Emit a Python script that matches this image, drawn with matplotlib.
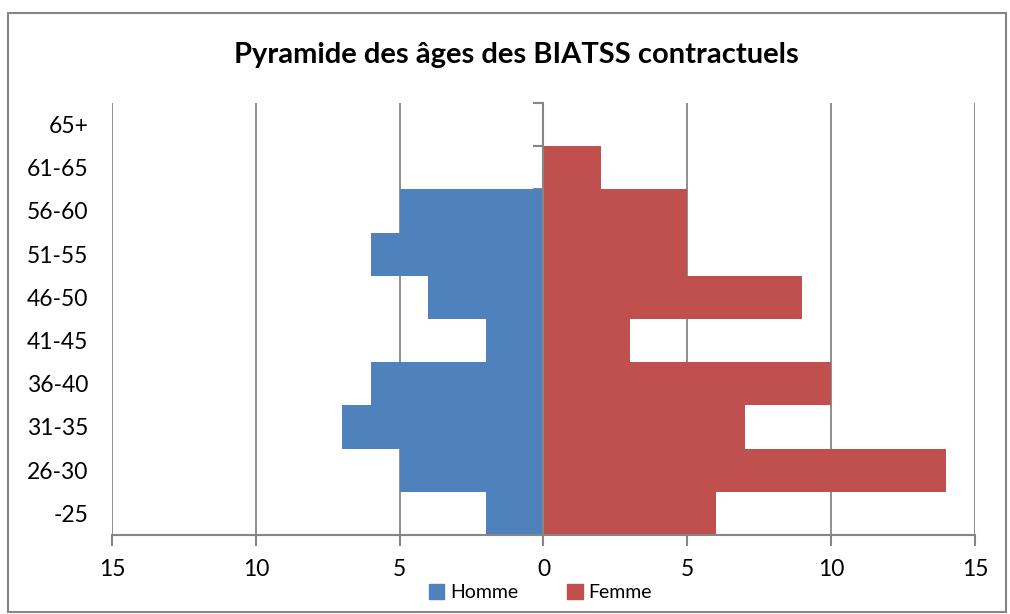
import numpy as np
import matplotlib.pyplot as plt
from matplotlib.patches import Rectangle, Patch

plt.rcParams["font.family"] = ["Lato", "DejaVu Sans"]

# données (du bas vers le haut)
age_groups = ["-25", "26-30", "31-35", "36-40", "41-45", "46-50", "51-55", "56-60", "61-65", "65+"]
homme = [2, 5, 7, 6, 2, 4, 6, 5, 0, 0]
femme = [6, 14, 7, 10, 3, 9, 5, 5, 2, 0]

blue = "#4F81BD"
red = "#C0504D"
grey = "#868686"

fig = plt.figure(figsize=(10.1, 6.14), dpi=100)
ax = fig.add_axes([0.1109, 0.1287, 0.8544, 0.7036])

y = np.arange(len(age_groups))
ax.barh(y, -np.array(homme), height=1.0, color=blue, label="Homme", zorder=2)
ax.barh(y, femme, height=1.0, color=red, label="Femme", zorder=2)

ax.set_xlim(-15, 15)
ax.set_ylim(-0.5, len(age_groups) - 0.5)

xt = np.arange(-15, 16, 5)
ax.set_xticks(xt)
ax.set_xticklabels([str(abs(v)) for v in xt], fontsize=16.5)
ax.tick_params(axis="x", direction="out", length=8, width=1.5, color=grey, pad=9)
for v in xt:
    if v != 0:
        ax.axvline(v, color=grey, lw=1.3, zorder=1)

# axe vertical au zéro avec graduations aux limites des classes
ax.spines["left"].set_position(("data", 0))
ax.spines["left"].set_color(grey)
ax.spines["left"].set_linewidth(1.5)
ax.spines["left"].set_zorder(3)
ax.set_yticks(np.arange(len(age_groups) + 1) - 0.5)
ax.set_yticklabels([])
ax.tick_params(axis="y", direction="out", length=7, width=1.5, color=grey)

sec = ax.secondary_yaxis("left")
sec.set_yticks(y)
sec.set_yticklabels(age_groups, fontsize=16.5)
sec.tick_params(length=0, pad=17)
sec.spines["left"].set_visible(False)

for s in ["top", "right"]:
    ax.spines[s].set_visible(False)
ax.spines["bottom"].set_color(grey)
ax.spines["bottom"].set_linewidth(1.5)

fig.text(0.511, 0.91, "Pyramide des âges des BIATSS contractuels",
         ha="center", va="center", fontsize=21, fontweight="bold")

handles = [Patch(color=blue, label="Homme"), Patch(color=red, label="Femme")]
fig.legend(handles=handles, loc="center", bbox_to_anchor=(0.535, 0.035), ncol=2,
           frameon=False, fontsize=14, handlelength=0.8, handleheight=0.8,
           handletextpad=0.3, columnspacing=2.5)

fig.patches.append(Rectangle((0.008, 0.003), 0.988, 0.976, transform=fig.transFigure,
                             fill=False, edgecolor=grey, lw=1.5))

fig.savefig("out.png", dpi=100)
